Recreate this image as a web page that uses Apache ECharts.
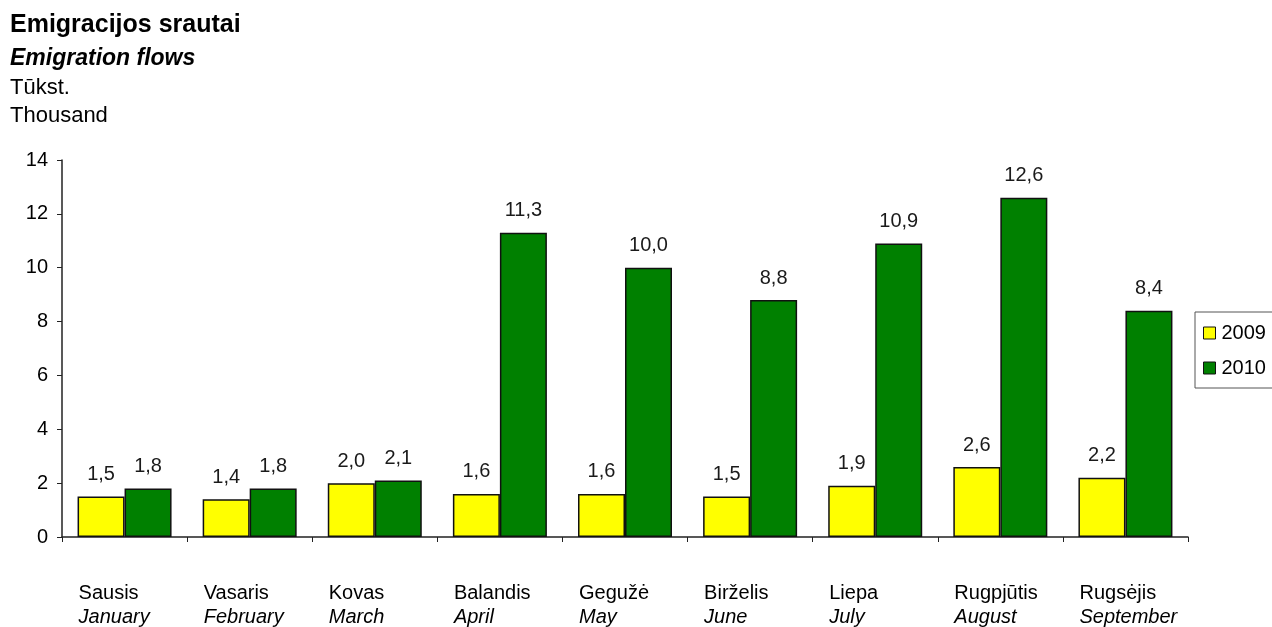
<!DOCTYPE html>
<html>
<head>
<meta charset="utf-8">
<script src="https://cdn.jsdelivr.net/npm/echarts@6/dist/echarts.min.js"></script>
<style>
  html, body { margin: 0; padding: 0; background: #fff; }
  #chart { width: 1272px; height: 627px; }
</style>
</head>
<body>
<div id="chart"></div>
<script>
// months: Lithuanian + English
const monthsLt = ['Sausis', 'Vasaris', 'Kovas', 'Balandis', 'Gegužė', 'Birželis', 'Liepa', 'Rugpjūtis', 'Rugsėjis']
const monthsEn = ['January', 'February', 'March', 'April', 'May', 'June', 'July', 'August', 'September']
const values2009 = [1.5, 1.4, 2.0, 1.6, 1.6, 1.5, 1.9, 2.6, 2.2]
const values2010 = [1.8, 1.8, 2.1, 11.3, 10.0, 8.8, 10.9, 12.6, 8.4]
const yTicks = [0, 2, 4, 6, 8, 10, 12, 14]

const FONT = '"Liberation Sans", Arial, sans-serif'
const chart = echarts.init(document.getElementById('chart'))

const barLabel = {
  show: true,
  position: 'top',
  distance: 12,
  color: '#1a1a1a',
  fontSize: 20,
  fontFamily: FONT,
  formatter: p => p.value.toFixed(1).replace('.', ',')
}

chart.setOption({
  animation: false,
  backgroundColor: '#fff',
  title: [
    { text: 'Emigracijos srautai', left: 5, top: 8,
      textStyle: { fontFamily: FONT, fontSize: 25, fontWeight: 'bold', color: '#000' } },
    { text: 'Emigration flows', left: 5, top: 42,
      textStyle: { fontFamily: FONT, fontSize: 23, fontWeight: 'bold', fontStyle: 'italic', color: '#000' } },
    { text: 'Tūkst.', left: 5, top: 72,
      textStyle: { fontFamily: FONT, fontSize: 22, fontWeight: 'normal', color: '#000' } },
    { text: 'Thousand', left: 5, top: 100,
      textStyle: { fontFamily: FONT, fontSize: 22, fontWeight: 'normal', color: '#000' } }
  ],
  legend: {
    orient: 'vertical',
    left: 1195,
    top: 312,
    padding: [11, 10, 10, 8],
    itemGap: 15,
    itemWidth: 12,
    itemHeight: 12,
    borderColor: '#555',
    borderWidth: 1,
    icon: 'rect',
    itemStyle: { borderColor: '#111', borderWidth: 1 },
    textStyle: { fontFamily: FONT, fontSize: 20, color: '#000', padding: [0, 0, 0, 1] },
    data: ['2009', '2010']
  },
  grid: { left: 62, right: 84, top: 160, bottom: 89 },
  xAxis: {
    type: 'category',
    data: monthsLt,
    axisLine: { lineStyle: { color: '#222', width: 1.5 } },
    axisTick: { show: true, length: 5, lineStyle: { color: '#222' } },
    axisLabel: {
      margin: 44,
      interval: 0,
      align: 'left',
      padding: [0, 0, 0, -46],
      formatter: (v, i) => '{a|' + v + '}\n{b|' + monthsEn[i] + '}',
      rich: {
        a: { align: 'left', fontFamily: FONT, fontSize: 20, color: '#000', lineHeight: 24 },
        b: { align: 'left', fontFamily: FONT, fontSize: 20, fontStyle: 'italic', color: '#000', lineHeight: 24 }
      }
    }
  },
  yAxis: {
    type: 'value',
    min: 0,
    max: 14,
    interval: 2,
    splitLine: { show: false },
    axisLine: { show: true, lineStyle: { color: '#222', width: 1.5 } },
    axisTick: { show: true, length: 5, inside: false, lineStyle: { color: '#222' } },
    axisLabel: {
      margin: 14,
      fontFamily: FONT,
      fontSize: 20,
      color: '#000',
      formatter: v => yTicks.includes(v) ? String(v) : ''
    }
  },
  series: [
    {
      name: '2009',
      type: 'bar',
      data: values2009,
      barWidth: 47,
      barGap: 0,
      itemStyle: { color: '#ffff00', borderColor: '#111', borderWidth: 1.5 },
      label: barLabel
    },
    {
      name: '2010',
      type: 'bar',
      data: values2010,
      barWidth: 47,
      barGap: 0,
      itemStyle: { color: '#008000', borderColor: '#111', borderWidth: 1.5 },
      label: barLabel
    }
  ]
})
</script>
</body>
</html>
